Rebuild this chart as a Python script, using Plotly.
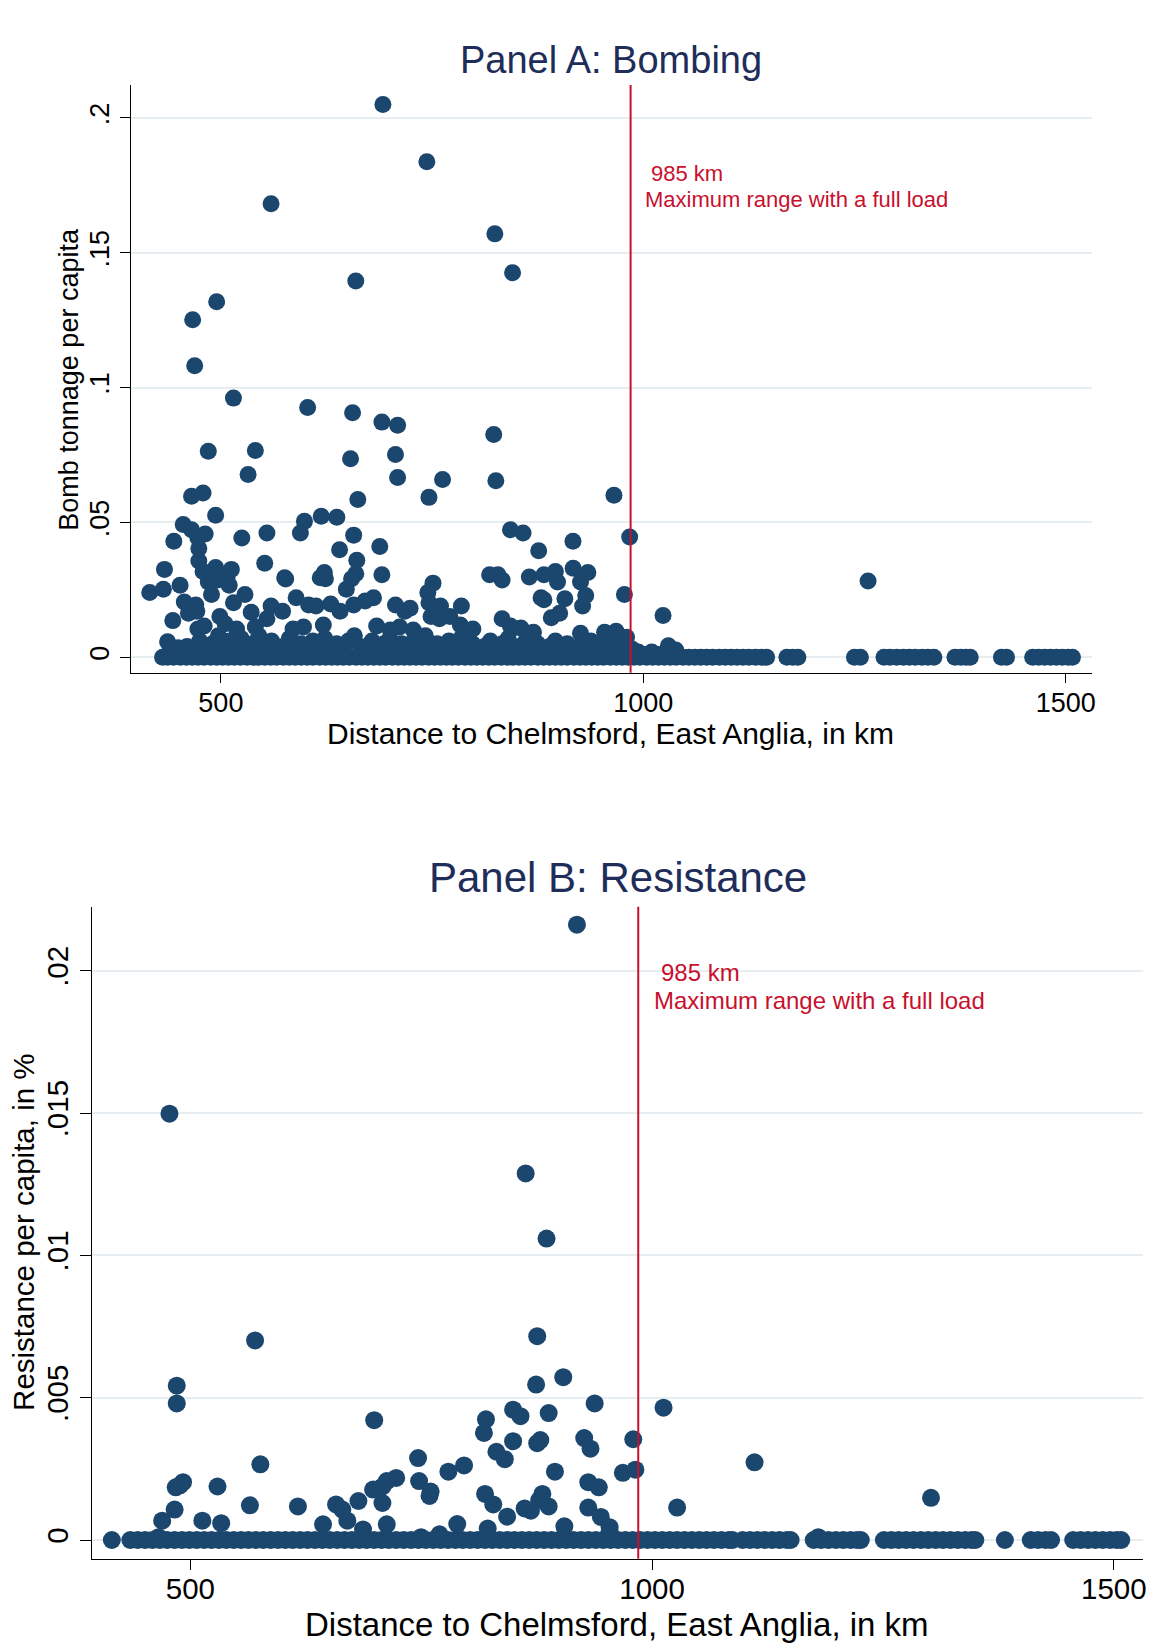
import plotly.graph_objects as go

# ---------------- Panel A: Bombing ----------------
bomb_km = [691.8, 743.8, 559.4, 824.3, 845.3, 659.7, 495.0, 466.6, 469.0, 514.9,
           602.7, 655.9, 690.6, 709.2, 823.0, 485.1, 540.8, 653.5, 706.7, 532.2,
           709.2, 762.4, 825.5, 465.3, 478.9, 746.3, 965.3, 662.1, 493.8, 598.9,
           618.8, 637.3, 455.4, 842.8, 857.7, 444.3, 524.8, 554.5, 594.1, 983.9,
           916.8, 657.2, 472.8, 481.4, 465.3, 473.9, 640.5, 876.2, 688.1, 473.9,
           551.9, 660.9, 433.2, 493.8, 512.4, 478.9, 865.1, 882.4, 917.0, 934.4,
           818.1, 828.0, 832.9, 659.7, 690.6, 575.5, 617.6, 622.5, 925.7, 896.0,
           898.5, 415.8, 431.9, 451.7, 488.9, 485.1, 496.3, 507.4, 509.9, 528.5,
           514.9, 456.7, 751.1, 654.7, 623.8, 879.0, 882.4, 745.0, 907.2, 977.7,
           746.3, 748.8, 928.2, 931.9, 576.7, 589.1, 559.4, 603.9, 573.0, 612.6,
           630.0, 648.5, 641.1, 657.2, 670.8, 680.7, 706.7, 717.8, 724.0, 760.0,
           771.1, 784.7, 758.7, 832.9, 842.8, 855.2, 891.1, 901.0, 1023.4, 980.2,
           954.2, 967.8, 1029.7, 1038.4, 1266.1, 443.1, 480.2, 472.8, 461.6, 470.3,
           471.5, 498.8, 505.0, 518.6, 535.9, 540.8, 554.5, 585.4, 597.8, 621.3,
           684.4, 700.5, 711.6, 727.7, 783.4, 798.3, 844.1, 870.0, 925.7, 436.9,
           449.3, 469.0]
bomb_val = [0.205, 0.1837, 0.1682, 0.157, 0.1426, 0.1395, 0.1318, 0.1252, 0.1081, 0.0961,
            0.0926, 0.0907, 0.0872, 0.086, 0.0826, 0.0764, 0.0767, 0.0736, 0.0752, 0.0678,
            0.0667, 0.0659, 0.0655, 0.0597, 0.0609, 0.0593, 0.0601, 0.0585, 0.0527, 0.0504,
            0.0523, 0.0519, 0.0492, 0.0473, 0.0461, 0.043, 0.0442, 0.0461, 0.0461, 0.0446,
            0.043, 0.0453, 0.0442, 0.0457, 0.0473, 0.0403, 0.0399, 0.0395, 0.0411, 0.0357,
            0.0349, 0.036, 0.0326, 0.0333, 0.0326, 0.0318, 0.0298, 0.0306, 0.033, 0.0314,
            0.0306, 0.0306, 0.0287, 0.031, 0.0306, 0.0295, 0.0295, 0.0314, 0.0279, 0.0318,
            0.0279, 0.024, 0.0252, 0.0267, 0.0233, 0.0279, 0.0287, 0.0298, 0.0267, 0.0233,
            0.0202, 0.0205, 0.0275, 0.0291, 0.0291, 0.0221, 0.0213, 0.024, 0.0217, 0.0233,
            0.0202, 0.0151, 0.019, 0.0229, 0.029, 0.0221, 0.019, 0.0194, 0.0171, 0.019,
            0.0198, 0.0252, 0.0171, 0.0194, 0.0209, 0.0221, 0.0194, 0.0171, 0.0182, 0.019,
            0.0151, 0.019, 0.0143, 0.0143, 0.0116, 0.0109, 0.0147, 0.0163, 0.0155, 0.0074,
            0.0093, 0.0097, 0.0043, 0.0027, 0.0283, 0.0136, 0.0116, 0.0105, 0.0163, 0.0194,
            0.0171, 0.0151, 0.0124, 0.0105, 0.0167, 0.0112, 0.0143, 0.0105, 0.0112, 0.012,
            0.0116, 0.0101, 0.0112, 0.0101, 0.012, 0.0105, 0.0105, 0.0093, 0.0089, 0.0058,
            0.0035, 0.0027]

# dense mass of small values just above zero
bomb_small_km = [440, 452, 460, 468, 475, 482, 490, 497, 503, 510, 517, 524, 531, 538, 545,
                 552, 560, 567, 574, 581, 588, 595, 602, 609, 616, 623, 630, 637, 644, 651,
                 658, 665, 672, 679, 686, 693, 700, 707, 714, 721, 728, 735, 742, 749, 756,
                 763, 770, 777, 784, 791, 798, 805, 812, 819, 826, 833, 840, 847, 854, 861,
                 868, 875, 882, 889, 896, 903, 910, 917, 924, 931, 938, 945, 952, 959, 966,
                 973, 980, 987, 994, 1001, 1010, 1018]
bomb_small_val = [0.003, 0.002, 0.004, 0.0015, 0.006, 0.003, 0.005, 0.008, 0.002, 0.006,
                  0.004, 0.007, 0.002, 0.005, 0.008, 0.003, 0.006, 0.002, 0.004, 0.007,
                  0.003, 0.005, 0.002, 0.006, 0.004, 0.007, 0.003, 0.005, 0.002, 0.006,
                  0.008, 0.004, 0.003, 0.006, 0.002, 0.005, 0.007, 0.003, 0.005, 0.002,
                  0.006, 0.004, 0.008, 0.003, 0.005, 0.002, 0.006, 0.004, 0.007, 0.003,
                  0.005, 0.002, 0.004, 0.006, 0.003, 0.005, 0.007, 0.002, 0.004, 0.006,
                  0.003, 0.005, 0.002, 0.004, 0.006, 0.003, 0.005, 0.002, 0.004, 0.003,
                  0.006, 0.002, 0.004, 0.003, 0.005, 0.002, 0.004, 0.003, 0.002, 0.001,
                  0.002, 0.001]

# municipalities with zero bombing
bomb_zero_km = [431, 437, 444, 452, 459, 466, 473, 480, 488, 495, 502, 509, 516, 523, 531,
                538, 545, 552, 559, 566, 574, 581, 588, 595, 602, 609, 617, 624, 631, 638,
                645, 652, 660, 667, 674, 681, 688, 695, 703, 710, 717, 724, 731, 738, 746,
                753, 760, 767, 774, 781, 789, 796, 803, 810, 817, 824, 832, 839, 846, 853,
                860, 867, 875, 882, 889, 896, 903, 910, 918, 925, 932, 939, 946, 953, 961,
                968, 975, 982, 989, 996, 1004, 1011, 1018, 1025, 1032, 1039, 1047, 1054,
                1061, 1068, 1075, 1082, 1090, 1097, 1104, 1111, 1118, 1125, 1133, 1140,
                1146, 1170, 1177, 1183, 1250, 1257, 1285, 1292, 1300, 1308, 1315, 1322,
                1330, 1337, 1344, 1369, 1376, 1382, 1387, 1424, 1430, 1461, 1468, 1475,
                1482, 1489, 1496, 1503, 1508]

# ---------------- Panel B: Resistance ----------------
res_km = [918.6, 477.4, 863.1, 885.7, 570.1, 875.6, 485.3, 485.3, 903.8, 874.4,
          937.8, 1012.4, 699.1, 849.5, 857.5, 888.0, 820.1, 817.9, 849.5, 875.6,
          879.0, 926.5, 979.6, 933.3, 831.4, 840.5, 1110.9, 746.6, 796.4, 779.4,
          575.8, 894.8, 968.3, 981.9, 722.9, 712.7, 747.7, 708.1, 697.9, 492.1,
          488.7, 484.2, 529.4, 930.9, 942.3, 759.0, 760.2, 819.1, 828.0, 877.8,
          881.2, 888.0, 868.8, 862.0, 930.9, 944.5, 1027.1, 1302.0, 564.5, 616.5,
          533.4, 513.0, 469.5, 483.0, 465.6, 643.7, 657.8, 664.6, 670.0, 682.0,
          687.0, 708.0, 712.7, 749.8, 769.8, 789.0, 822.0, 843.0, 905.0, 954.0,
          954.0, 1180.0]
res_val = [0.02162, 0.01498, 0.01288, 0.01059, 0.00701, 0.00716, 0.00542, 0.0048, 0.00572, 0.00546,
           0.0048, 0.00465, 0.00421, 0.00458, 0.00435, 0.00446, 0.00424, 0.00376, 0.00347, 0.0034,
           0.00351, 0.00358, 0.00354, 0.00321, 0.0031, 0.00284, 0.00273, 0.00288, 0.00262, 0.0024,
           0.00266, 0.0024, 0.00236, 0.00247, 0.00218, 0.00207, 0.00207, 0.00188, 0.00177, 0.00203,
           0.00192, 0.00185, 0.00188, 0.00203, 0.00185, 0.00155, 0.0017, 0.00162, 0.00125, 0.0014,
           0.00162, 0.00118, 0.00103, 0.00111, 0.00114, 0.00081, 0.00114, 0.00148, 0.00122, 0.00118,
           0.00059, 0.00068, 0.00068, 0.00107, 0.0001, 0.00055, 0.00125, 0.00107, 0.00068, 0.00137,
           0.00037, 0.0013, 0.00055, 0.0001, 0.0002, 0.00056, 0.0004, 0.00082, 0.00048, 0.00045,
           0.0003, 0.0001]

res_zero_km = [415, 435, 443, 451, 459, 467, 475, 483, 491, 499, 507, 515, 523, 531, 539,
               547, 555, 563, 571, 579, 587, 595, 603, 611, 619, 627, 635, 643, 651, 659,
               667, 675, 683, 691, 699, 707, 715, 723, 731, 739, 747, 755, 763, 771, 779,
               787, 795, 803, 811, 819, 827, 835, 843, 851, 859, 867, 875, 883, 891, 899,
               907, 915, 923, 931, 939, 947, 955, 963, 971, 979, 987, 995, 1003, 1011,
               1019, 1027, 1035, 1043, 1051, 1059, 1067, 1075, 1083, 1087, 1098, 1106,
               1114, 1122, 1130, 1138, 1146, 1150, 1175, 1183, 1191, 1199, 1207, 1215,
               1222, 1226, 1251, 1259, 1267, 1275, 1283, 1291, 1299, 1307, 1315, 1323,
               1331, 1339, 1346, 1350, 1382, 1410, 1418, 1426, 1432, 1456, 1464, 1472,
               1480, 1488, 1496, 1503, 1508]

MAX_RANGE_KM = 985

NAVY = "#1b466e"
RED = "#c8102e"
GRID = "#e6eef1"
TITLE = "#1e2d5a"
FONT = "Liberation Sans, Arial, Helvetica, sans-serif"

W, H = 1162, 1644

fig = go.Figure()

marker_a = dict(color=NAVY, size=17, line=dict(width=0))
marker_b = dict(color=NAVY, size=18, line=dict(width=0))

fig.add_trace(go.Scatter(x=bomb_zero_km, y=[0.0] * len(bomb_zero_km), mode="markers",
                         marker=marker_a, xaxis="x", yaxis="y", showlegend=False))
fig.add_trace(go.Scatter(x=bomb_small_km, y=bomb_small_val, mode="markers",
                         marker=marker_a, xaxis="x", yaxis="y", showlegend=False))
fig.add_trace(go.Scatter(x=bomb_km, y=bomb_val, mode="markers",
                         marker=marker_a, xaxis="x", yaxis="y", showlegend=False))

fig.add_trace(go.Scatter(x=res_zero_km, y=[0.0] * len(res_zero_km), mode="markers",
                         marker=marker_b, xaxis="x2", yaxis="y2", showlegend=False))
fig.add_trace(go.Scatter(x=res_km, y=res_val, mode="markers",
                         marker=marker_b, xaxis="x2", yaxis="y2", showlegend=False))

axis_common = dict(showline=True, linecolor="black", linewidth=1.3, mirror=False,
                   ticks="outside", tickcolor="black", tickwidth=1.3, zeroline=False)

fig.update_layout(
    width=W, height=H,
    margin=dict(l=0, r=0, t=0, b=0),
    paper_bgcolor="white", plot_bgcolor="white",
    font=dict(family=FONT, color="black"),
    xaxis=dict(domain=[131.7 / W, 1095.7 / W], anchor="y", range=[393.9, 1531.1],
               tickvals=[500, 1000, 1500], ticktext=["500", "1000", "1500"],
               ticklen=9, ticklabelstandoff=-3, showgrid=False, tickfont=dict(size=27),
               **axis_common),
    yaxis=dict(domain=[1 - 672.7 / H, 1 - 85 / H], anchor="x", range=[-0.00571, 0.2122],
               tickvals=[0, 0.05, 0.1, 0.15, 0.2], ticktext=["0", ".05", ".1", ".15", ".2"],
               tickangle=-90, ticklen=10, showgrid=True, gridcolor=GRID, gridwidth=2,
               tickfont=dict(size=27), **axis_common),
    xaxis2=dict(domain=[92.3 / W, 1146.7 / W], anchor="y2", range=[393.5, 1531.3],
                tickvals=[500, 1000, 1500], ticktext=["500", "1000", "1500"],
                ticklen=10, ticklabelstandoff=-6, showgrid=False, tickfont=dict(size=29.5),
                **axis_common),
    yaxis2=dict(domain=[1 - 1558.7 / H, 1 - 906.7 / H], anchor="x2", range=[-0.000657, 0.02225],
                tickvals=[0, 0.005, 0.01, 0.015, 0.02], ticktext=["0", ".005", ".01", ".015", ".02"],
                tickangle=-90, ticklen=11, showgrid=True, gridcolor=GRID, gridwidth=2,
                tickfont=dict(size=29.5), **axis_common),
    shapes=[
        dict(type="line", xref="x", yref="y domain", x0=MAX_RANGE_KM, x1=MAX_RANGE_KM, y0=0, y1=1,
             line=dict(color=RED, width=2)),
        dict(type="line", xref="x2", yref="y2 domain", x0=MAX_RANGE_KM, x1=MAX_RANGE_KM, y0=0, y1=1,
             line=dict(color=RED, width=2)),
    ],
)

def ann(text, px, py, size, color="black", xanchor="center", angle=0):
    return dict(text=text, x=px / W, y=1 - py / H, xref="paper", yref="paper",
                showarrow=False, xanchor=xanchor, yanchor="middle", textangle=angle,
                font=dict(size=size, color=color, family=FONT))

fig.update_layout(annotations=[
    ann("Panel A: Bombing", 613.5, 60, 38, TITLE),
    ann("Distance to Chelmsford, East Anglia, in km", 613, 733, 30),
    ann("Bomb tonnage per capita", 69, 379, 27, angle=-90),
    ann(f"{MAX_RANGE_KM} km", 651, 173, 22, RED, xanchor="left"),
    ann("Maximum range with a full load", 645, 200, 22, RED, xanchor="left"),
    ann("Panel B: Resistance", 620, 878, 42, TITLE),
    ann("Distance to Chelmsford, East Anglia, in km", 619, 1624, 33),
    ann("Resistance per capita, in %", 23, 1232, 29.5, angle=-90),
    ann(f"{MAX_RANGE_KM} km", 661, 972, 24, RED, xanchor="left"),
    ann("Maximum range with a full load", 654, 1000, 24, RED, xanchor="left"),
])

fig.write_html("out.html", config={"displayModeBar": False},
               post_script="document.body.style.margin='0';document.body.style.overflow='hidden';")
